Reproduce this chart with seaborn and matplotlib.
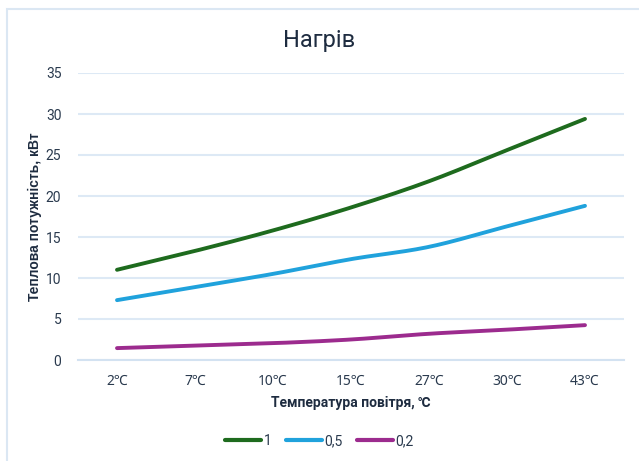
import numpy as np
import pandas as pd
import matplotlib
matplotlib.use("Agg")
import matplotlib.pyplot as plt
import seaborn as sns
from matplotlib.patches import Rectangle
from matplotlib.lines import Line2D

categories = ["2℃", "7℃", "10℃", "15℃", "27℃", "30℃", "43℃"]
series_names = ["1", "0,5", "0,2"]
s1 = [11.0, 13.3, 15.8, 18.6, 21.8, 25.6, 29.4]
s05 = [7.3, 8.9, 10.5, 12.3, 13.8, 16.3, 18.8]
s02 = [1.45, 1.75, 2.05, 2.5, 3.2, 3.7, 4.25]
colors = ["#1e6b1e", "#20a2dc", "#9c2b8e"]
yticks = [0, 5, 10, 15, 20, 25, 30, 35]

def smooth(vals, n=30):
    # Catmull-Rom spline through the data points (Excel-like smoothing)
    p = np.asarray(vals, float)
    x = np.arange(len(p), dtype=float)
    xs, ys = [], []
    for i in range(len(p) - 1):
        p0 = p[i - 1] if i > 0 else 2 * p[i] - p[i + 1]
        p3 = p[i + 2] if i + 2 < len(p) else 2 * p[i + 1] - p[i]
        p1, p2 = p[i], p[i + 1]
        t = np.linspace(0, 1, n, endpoint=False)
        y = 0.5 * ((2 * p1) + (-p0 + p2) * t + (2 * p0 - 5 * p1 + 4 * p2 - p3) * t ** 2
                   + (-p0 + 3 * p1 - 3 * p2 + p3) * t ** 3)
        xs.extend(x[i] + t)
        ys.extend(y)
    xs.append(x[-1]); ys.append(p[-1])
    return np.array(xs), np.array(ys)

frames = []
for name, vals in zip(series_names, [s1, s05, s02]):
    xs, ys = smooth(vals)
    frames.append(pd.DataFrame({"x": xs, "y": ys, "series": name}))
df = pd.concat(frames, ignore_index=True)

sns.set_theme(style="white")
plt.rcParams["font.family"] = ["Roboto", "DejaVu Sans"]

fig = plt.figure(figsize=(6.39, 4.61), dpi=100)
ax = fig.add_axes([78 / 639, 1 - 360 / 461, (624 - 78) / 639, (360 - 73) / 461])

# chart border
fig.patches.append(Rectangle((7 / 639, -0.05), 1.2, 1 - 9 / 461 + 0.05, transform=fig.transFigure,
                             fill=False, edgecolor="#dbe7f3", linewidth=1.5, zorder=0))

sns.lineplot(data=df, x="x", y="y", hue="series", palette=colors, sort=False,
             linewidth=2.8, legend=False, ax=ax, solid_capstyle="round")

ax.set_xlim(-0.5, len(categories) - 0.5)
ax.set_ylim(0, 35)
ax.set_yticks(yticks)
ax.set_yticklabels([str(v) for v in yticks])
ax.set_xticks(range(len(categories)))
ax.set_xticklabels(categories)
ax.set_xticks(np.arange(-0.5, len(categories), 1), minor=True)
ax.tick_params(axis="x", which="major", length=0, pad=10, labelsize=10, labelcolor="#2a3a4e")
ax.tick_params(axis="x", which="minor", length=5, width=1.2, color="#d3e2f1", direction="out")
ax.tick_params(axis="y", length=0, pad=12, labelsize=10, labelcolor="#2a3a4e")
for t in ax.get_xticklabels():
    t.set_family(["Noto Sans", "DejaVu Sans"])

ax.grid(axis="y", color="#dde9f5", linewidth=1.5)
ax.grid(axis="x", visible=False)
for s in ["top", "right", "left"]:
    ax.spines[s].set_visible(False)
ax.spines["bottom"].set_color("#d3e2f1")
ax.spines["bottom"].set_linewidth(1.5)

ax.set_xlabel("Температура повітря, ℃", fontsize=10, fontweight="bold", color="#1e2c40", labelpad=5)
ax.set_ylabel("Теплова потужність, кВт", fontsize=10, fontweight="bold", color="#1e2c40",
              family=["Liberation Sans", "DejaVu Sans"])
ax.yaxis.set_label_coords(-36 / 546, 0.5)
fig.text(0.5, 1 - 40 / 461, "Нагрів", ha="center", va="center", fontsize=17, color="#1e2c40")

handles = [Line2D([0], [0], color=c, linewidth=3) for c in colors]
fig.legend(handles, series_names, loc="center", bbox_to_anchor=(0.5, 1 - 441 / 461), ncol=3,
           frameon=False, fontsize=10, handlelength=2.6, handletextpad=0.2, columnspacing=1.0,
           labelcolor="#2a3a4e")

fig.savefig("out.png", dpi=100)
